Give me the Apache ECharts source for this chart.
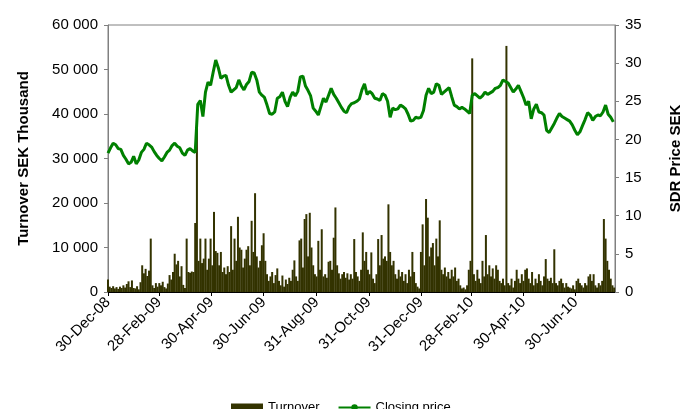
<!DOCTYPE html>
<html>
<head>
<meta charset="utf-8">
<script src="https://cdn.jsdelivr.net/npm/echarts@6/dist/echarts.min.js"></script>
<style>html,body{margin:0;padding:0;background:#fff;overflow:hidden;}#c{width:691px;height:409px;}</style>
</head>
<body>
<div id="c"></div>
<script>
// Tick labels (calendar day offsets from 30-Dec-08)
const tickDays = [0, 60, 121, 182, 244, 305, 366, 425, 486, 547];
const tickLabels = ['30-Dec-08','28-Feb-09','30-Apr-09','30-Jun-09','31-Aug-09','31-Oct-09','31-Dec-09','28-Feb-10','30-Apr-10','30-Jun-10'];
const lastDay = 593;

// Turnover (SEK thousand), one value every 2 calendar days starting 30-Dec-08
const turnoverStep = 2;
const turnover = [
  2800,1200,900,1300,800,1100,700,1200,900,1500,
  1000,1800,2400,1100,2600,900,800,1300,600,2200,
  6000,4200,5200,3600,4800,12000,1500,900,2000,1200,
  2000,1500,2300,1100,800,1900,3800,2800,4500,8600,
  6200,7000,3500,5800,1600,900,12000,4500,4300,4600,
  4500,15500,37500,7000,12000,6500,7500,12000,5000,7500,
  12000,6000,18000,9200,8800,6000,9000,4500,5500,4000,
  5800,4500,14800,5000,12000,7000,16900,10000,9500,5500,
  7500,9500,10300,6000,16000,9000,22200,8000,5500,7000,
  10500,13200,7000,4000,2500,3500,4500,2000,3800,5300,
  2500,1500,3700,1200,2800,1800,3200,2500,5000,7100,
  3500,2500,11600,12000,5500,16400,17500,8000,17800,10000,
  6000,4000,3500,11500,5000,14100,3500,4000,3200,6800,
  7000,5000,12200,19000,6000,4200,3000,4000,4500,3200,
  4200,2800,4000,3000,11900,4500,3500,2500,5000,13400,
  7000,9000,5000,4000,8900,3000,2000,4000,11900,6000,
  12800,7500,8000,7000,19700,9000,6000,7000,4000,3000,
  5000,3500,4500,2500,4000,2000,5000,3500,9000,4500,
  2000,1200,800,9000,15200,6000,20900,16700,8000,10000,
  11000,6000,12000,8000,16100,5000,4000,5500,3500,4500,
  3000,5000,3500,5500,2500,3000,1500,800,1000,600,
  1500,5000,7000,52500,4000,2500,5000,3000,2000,7000,
  3500,12800,4000,6000,3500,5300,3000,6000,5000,2500,
  2000,3000,1500,55300,2000,1500,3000,1000,2500,5000,
  3000,2000,4000,2500,5000,5300,3000,2000,4500,1500,
  3000,2000,4000,2500,1500,3500,7400,3000,2500,3200,
  2000,9600,2000,1500,2500,3000,2000,1000,2000,1200,
  1000,800,1500,600,2500,3000,2000,1500,1000,2000,
  1500,3500,4000,2500,4000,1500,1000,2000,1500,2500,
  16400,12000,7000,5000,3000,1500,1000
];

// Closing price (SEK), one value every 3 calendar days starting 30-Dec-08
const priceStep = 3;
const price = [
  18.2,18.9,19.5,19.3,18.8,18.7,17.9,17.4,16.8,17.0,
  17.8,16.8,17.3,18.3,18.7,19.5,19.3,19.0,18.4,17.9,
  17.5,17.2,17.7,18.3,18.6,19.2,19.5,19.1,18.9,18.2,
  17.9,18.6,18.8,18.5,18.3,24.6,25.1,23.0,26.2,27.5,
  27.1,28.8,30.4,29.4,28.0,28.3,28.4,27.1,26.2,26.5,
  26.8,27.8,27.0,26.5,27.2,27.6,28.8,28.7,27.8,26.2,
  25.8,25.5,24.5,23.4,23.3,23.6,25.4,25.6,26.2,25.0,
  24.3,25.5,26.2,25.7,26.3,28.2,28.3,27.0,26.4,25.7,
  24.1,23.7,23.2,24.3,25.4,24.9,25.8,26.7,25.9,25.4,
  24.8,24.2,23.7,23.5,24.3,24.7,24.8,25.0,25.3,26.5,
  27.3,25.9,26.3,26.0,25.4,25.3,25.1,26.0,25.8,25.0,
  22.9,24.1,23.9,24.0,24.5,24.3,24.0,23.3,22.4,22.5,
  22.9,22.8,22.9,23.8,25.8,26.7,26.0,26.2,27.3,27.1,
  25.9,26.2,26.5,26.8,25.6,24.5,24.3,24.0,24.2,24.0,
  23.7,23.4,25.8,26.0,25.7,25.4,25.7,26.2,25.9,26.1,
  26.3,26.7,26.8,27.1,27.8,27.6,27.4,26.8,26.2,26.6,
  27.1,26.3,25.5,24.5,25.0,22.7,24.0,24.6,23.6,23.5,
  23.2,21.2,20.9,21.5,22.1,22.8,23.4,23.0,22.8,22.6,
  22.4,21.9,21.2,20.6,21.0,21.8,22.6,23.5,23.2,22.5,
  23.0,23.2,23.1,23.6,24.5,23.3,22.9,22.3
];

const FONT = 'Liberation Sans, Arial, sans-serif';
function fmtThousands(v){ return String(v).replace(/\B(?=(\d{3})+(?!\d))/g, '\u00a0'); }

const chart = echarts.init(document.getElementById('c'), null, {renderer:'canvas', width:691, height:409});
chart.setOption({
  animation: false,
  textStyle: {fontFamily: FONT},
  grid: {left:108, right:67, top:25, bottom:117, show:true, borderColor:'#808080', borderWidth:1},
  legend: {
    left: 226, top: 396, itemWidth: 32, itemHeight: 8, itemGap: 18,
    textStyle: {fontSize: 13, color:'#000', fontFamily: FONT},
    data: [{name:'Turnover', icon:'rect'}, {name:'Closing price'}]
  },
  xAxis: {
    type: 'value', min: 0, max: lastDay,
    axisLine: {show:true, lineStyle:{color:'#000', width:1}},
    axisTick: {show:true, customValues: tickDays, length:4, lineStyle:{color:'#000'}},
    splitLine: {show:false},
    axisLabel: {
      customValues: tickDays, rotate: 45, fontSize: 15, color:'#000', margin: 8,
      formatter: function(v){ const k = tickDays.indexOf(v); return k >= 0 ? tickLabels[k] : ''; }
    }
  },
  yAxis: [
    {
      type:'value', min:0, max:60000, interval:10000,
      name:'Turnover SEK Thousand', nameLocation:'middle', nameRotate:90, nameGap:77,
      nameTextStyle:{fontSize:15, fontWeight:'bold', color:'#000'},
      axisLine:{show:true, lineStyle:{color:'#808080'}},
      axisTick:{show:true, length:4, lineStyle:{color:'#808080'}},
      splitLine:{show:false},
      axisLabel:{fontSize:15, color:'#000', margin:10, formatter: fmtThousands}
    },
    {
      type:'value', min:0, max:35, interval:5, position:'right',
      name:'SDR Price SEK', nameLocation:'middle', nameRotate:90, nameGap:53,
      nameTextStyle:{fontSize:15, fontWeight:'bold', color:'#000'},
      axisLine:{show:true, lineStyle:{color:'#808080'}},
      axisTick:{show:true, length:4, lineStyle:{color:'#808080'}},
      splitLine:{show:false},
      axisLabel:{fontSize:15, color:'#000', margin:10}
    }
  ],
  series: [
    {
      name:'Turnover', type:'bar', yAxisIndex:0, barWidth:2,
      itemStyle:{color:'#333300'},
      data: turnover.map((v,i)=>[i*turnoverStep, v])
    },
    {
      name:'Closing price', type:'line', yAxisIndex:1, showSymbol:false, symbol:'circle', symbolSize:3,
      lineStyle:{color:'#008000', width:3}, itemStyle:{color:'#008000'},
      data: price.map((v,i)=>[i*priceStep, v])
    }
  ]
});
</script>
</body>
</html>
